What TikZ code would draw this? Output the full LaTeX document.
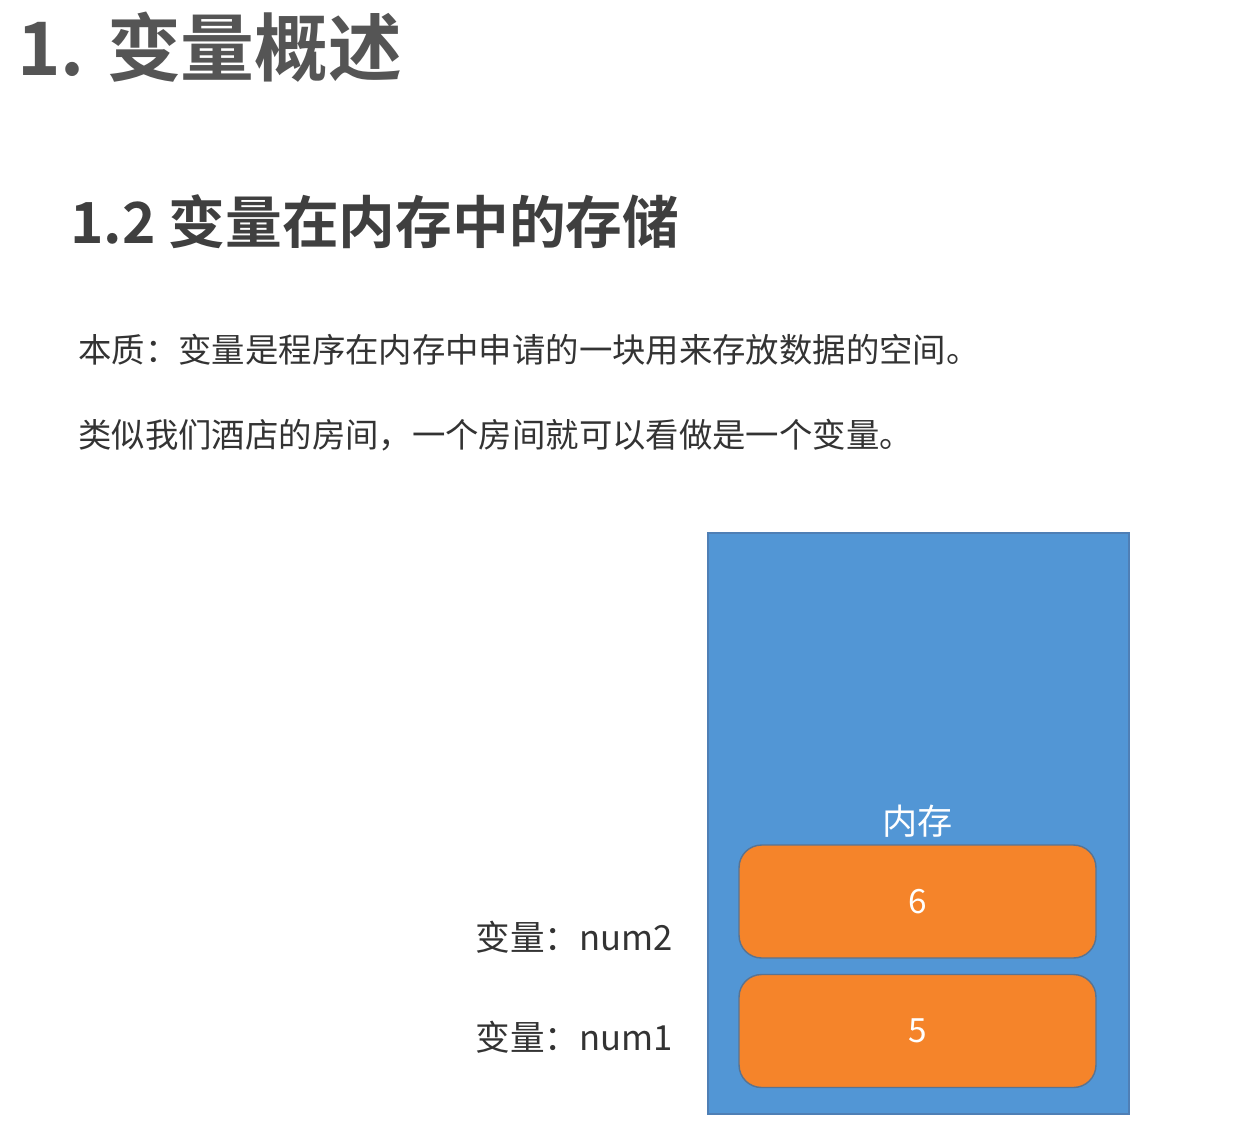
\documentclass[tikz,border=0pt]{standalone}
\usepackage{fontspec}
\setmainfont{Noto Sans CJK SC}
\newfontfamily\cjkbold{Noto Sans CJK SC Bold}
\usepackage{tikz}
\usetikzlibrary{positioning}

\definecolor{memblue}{HTML}{5296D5}
\definecolor{memedge}{HTML}{4F7FB5}
\definecolor{cellorange}{HTML}{F5842A}
\definecolor{celledge}{HTML}{5A7390}
\definecolor{headgray}{HTML}{555555}
\definecolor{subgray}{HTML}{3F3F3F}
\definecolor{textgray}{HTML}{333333}

\begin{document}
\begin{tikzpicture}[x=0.02cm,y=-0.02cm,
    heading/.style={anchor=west,inner sep=0pt,font=\cjkbold\fontsize{42}{48}\selectfont,text=headgray},
    subheading/.style={anchor=west,inner sep=0pt,font=\cjkbold\fontsize{32.3}{36}\selectfont,text=subgray},
    bodytext/.style={anchor=west,inner sep=0pt,font=\fontsize{19}{22}\selectfont,text=textgray},
    memory/.style={draw=memedge,fill=memblue,line width=0.8pt,minimum width=8.42cm,minimum height=11.62cm},
    cell/.style={draw=celledge,fill=cellorange,line width=0.8pt,rounded corners=0.45cm,
        minimum width=7.14cm,minimum height=2.26cm,text=white,font=\fontsize{19}{22}\selectfont},
    varlabel/.style={anchor=east,inner sep=0pt,font=\fontsize{19.7}{22}\selectfont,text=textgray}]
    % Background fixes the page size
    \fill[white] (0,0) rectangle (1257,1130);

    % Headings
    \node[heading] (title) at (17,47) {1. 变量概述};
    \node[subheading] (subtitle) at (70,222) {1.2 变量在内存中的存储};

    % Explanation lines
    \node[bodytext] (essence) at (78,350) {本质：变量是程序在内存中申请的一块用来存放数据的空间。};
    \node[bodytext] (hotel) at (78,435) {类似我们酒店的房间，一个房间就可以看做是一个变量。};

    % The memory block and its cells
    \node[memory] (mem) at (918.5,823.5) {};
    \node[cell] (cellb) at (917.5,901.5) {6};
    \node[cell] (cella) at (917.5,1031) {5};
    \node[text=white,font=\fontsize{20}{24}\selectfont,above=0.02cm of cellb] (memlabel) {内存};

    % Variable names
    \node[varlabel] (numb) at (673,937) {变量：num2};
    \node[varlabel] (numa) at (673,1037) {变量：num1};
\end{tikzpicture}
\end{document}
